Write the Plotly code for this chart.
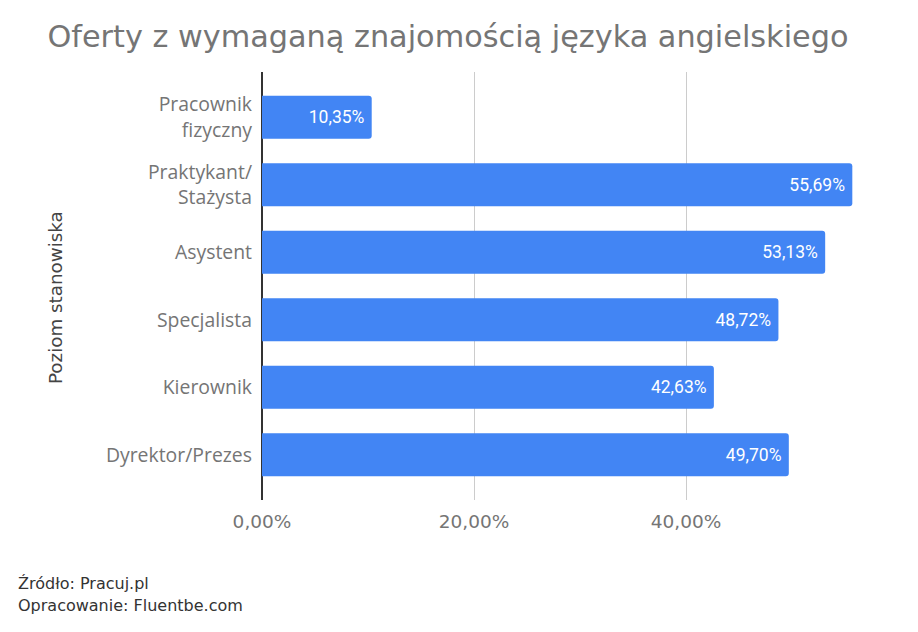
import plotly.graph_objects as go

categories = ["Pracownik<br>fizyczny", "Praktykant/<br>Stażysta", "Asystent",
              "Specjalista", "Kierownik", "Dyrektor/Prezes"]
values = [10.35, 55.69, 53.13, 48.72, 42.63, 49.70]
tick_vals = [0, 20, 40, 60]
tick_text = ["0,00%", "20,00%", "40,00%", ""]

labels = [f"{v:.2f}".replace(".", ",") + "%&nbsp;" for v in values]

W, H = 918, 632
L, R, T, B = 262, 20, 72, 132
pw, ph = W - L - R, H - T - B

fig = go.Figure(go.Bar(
    x=values, y=categories, orientation="h",
    marker=dict(color="#4285F4", cornerradius=3, line=dict(width=0)),
    width=0.64,
    text=labels, textposition="inside", insidetextanchor="end",
    textfont=dict(family="Roboto", size=17.5, color="white"),
    constraintext="none",
    hoverinfo="skip",
))

fig.update_layout(
    width=W, height=H,
    margin=dict(l=L, r=R, t=T, b=B),
    paper_bgcolor="white", plot_bgcolor="white",
    showlegend=False,
    title=dict(text="Oferty z wymaganą znajomością języka angielskiego",
               x=0.488, xanchor="center", y=1 - 36 / H, yanchor="middle",
               font=dict(family="DejaVu Sans", size=30.3, color="#757575")),
    xaxis=dict(range=[0, 60], tickvals=tick_vals, ticktext=tick_text,
               showgrid=True, gridcolor="#cccccc", gridwidth=1,
               zeroline=True, zerolinecolor="#333333", zerolinewidth=1.5,
               showline=False, ticks="", ticklabelstandoff=8,
               tickfont=dict(family="DejaVu Sans", size=18.5, color="#757575")),
    yaxis=dict(type="category", range=[5.67, -0.67],
               showgrid=False, showline=False, ticks="", ticklabelstandoff=9,
               tickfont=dict(family="Open Sans", size=19.4, color="#757575")),
    annotations=[
        dict(text="Poziom stanowiska", textangle=-90, xref="paper", yref="paper",
             x=(55 - L) / pw, y=(H - B - 298) / ph, xanchor="center", yanchor="middle",
             showarrow=False, font=dict(family="DejaVu Sans", size=18.3, color="#444444")),
        dict(text="Źródło: Pracuj.pl", xref="paper", yref="paper",
             x=(16 - L) / pw, y=(H - B - 583) / ph, xanchor="left", yanchor="middle",
             showarrow=False, font=dict(family="DejaVu Sans", size=16, color="#333333")),
        dict(text="Opracowanie: Fluentbe.com", xref="paper", yref="paper",
             x=(16 - L) / pw, y=(H - B - 605) / ph, xanchor="left", yanchor="middle",
             showarrow=False, font=dict(family="DejaVu Sans", size=16, color="#333333")),
    ],
)

fig.write_html("out.html")
